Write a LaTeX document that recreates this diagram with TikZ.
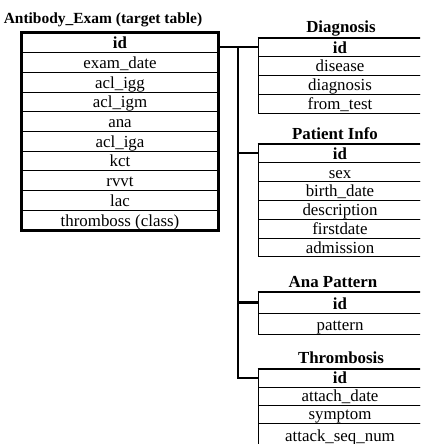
\documentclass[tikz,border=0pt]{standalone}
\usepackage{fontspec}
\setmainfont{Liberation Serif}
\usetikzlibrary{calc}

\tikzset{
  field/.style={draw, line width=0.6pt, inner xsep=2pt, inner ysep=0pt, text depth=0pt,
    font=\fontsize{12}{14}\selectfont},
  keyfield/.style={field, font=\fontsize{12}{14}\selectfont\bfseries},
  tabtitle/.style={anchor=base, inner sep=0pt, font=\fontsize{12}{14}\selectfont\bfseries},
  maincell/.style={minimum width=4.9cm, minimum height=0.4925cm, text height=8.4pt},
  diacell/.style={minimum width=4.1cm, minimum height=0.469cm, text height=8.3pt},
  patcell/.style={minimum width=4.1cm, minimum height=0.47cm, text height=8.3pt},
  anacell/.style={minimum width=4.1cm, minimum height=0.525cm, text height=9.9pt},
  thrcell/.style={minimum width=4.1cm, minimum height=0.45cm, text height=7.8pt},
  link/.style={line width=1.5pt},
}

\begin{document}
\begin{tikzpicture}[x=0.025cm, y=-0.025cm]
  \useasboundingbox (0,0) rectangle (420,444);
  \clip (0,0) rectangle (420,444);

  %%%%% target table %%%%%
  \node[tabtitle, font=\fontsize{11}{13}\selectfont\bfseries] (t-main) at (103,24) {Antibody\_Exam (target table)};
  \node[keyfield, maincell] (main-1) at (120, 42.85) {id};
  \foreach \f [count=\i from 2] in {exam\_date, acl\_igg, acl\_igm, ana, acl\_iga, kct, rvvt, lac, thromboss (class)}
    \node[field, maincell] (main-\i) at (120, {33+(\i-0.5)*19.7}) {\f};
  \draw[line width=2pt] (main-1.north west) rectangle (main-10.south east);

  %%%%% Diagnosis %%%%%
  \node[tabtitle] (t-dia) at (341,33) {Diagnosis};
  \node[keyfield, diacell] (dia-1) at (340, 47.4) {id};
  \foreach \f [count=\i from 2] in {disease, diagnosis, from\_test}
    \node[field, diacell] (dia-\i) at (340, {38+(\i-0.5)*18.75}) {\f};
  \draw[line width=1.2pt] (dia-1.north west) -- (dia-1.north east);

  %%%%% Patient Info %%%%%
  \node[tabtitle] (t-pat) at (335,140) {Patient Info};
  \node[keyfield, patcell] (pat-1) at (340, 153.4) {id};
  \foreach \f [count=\i from 2] in {sex, birth\_date, description, firstdate, admission}
    \node[field, patcell] (pat-\i) at (340, {144+(\i-0.5)*18.8}) {\f};
  \draw[line width=1.2pt] (pat-1.north west) -- (pat-1.north east);

  %%%%% Ana Pattern %%%%%
  \node[tabtitle] (t-ana) at (333,287) {Ana Pattern};
  \node[keyfield, anacell] (ana-1) at (340, 302.5) {id};
  \node[field, anacell] (ana-2) at (340, 323.5) {pattern};
  \draw[line width=1.2pt] (ana-1.north west) -- (ana-1.north east);

  %%%%% Thrombosis %%%%%
  \node[tabtitle] (t-thr) at (341,363) {Thrombosis};
  \node[keyfield, thrcell] (thr-1) at (340, 378) {id};
  \foreach \f [count=\i from 2] in {attach\_date, symptom}
    \node[field, thrcell] (thr-\i) at (340, {369+(\i-0.5)*18}) {\f};
  % last row runs past the page edge
  \node[field, minimum width=4.1cm, minimum height=0.7cm, text height=5.7pt] (thr-4) at (340, 437) {attack\_seq\_num};
  \draw[line width=1.2pt] (thr-1.north west) -- (thr-1.north east);

  %%%%% links %%%%%
  \coordinate (trunk) at (238,0);
  \draw[link] (main-1.east |- dia-1.west) -- (dia-1.west);
  \draw[link] (trunk |- dia-1.west) |- (thr-1.west);
  \draw[link] (trunk |- pat-1.west) -- (pat-1.west);
  \draw[link] (trunk |- ana-1.west) -- (ana-1.west);
\end{tikzpicture}
\end{document}
